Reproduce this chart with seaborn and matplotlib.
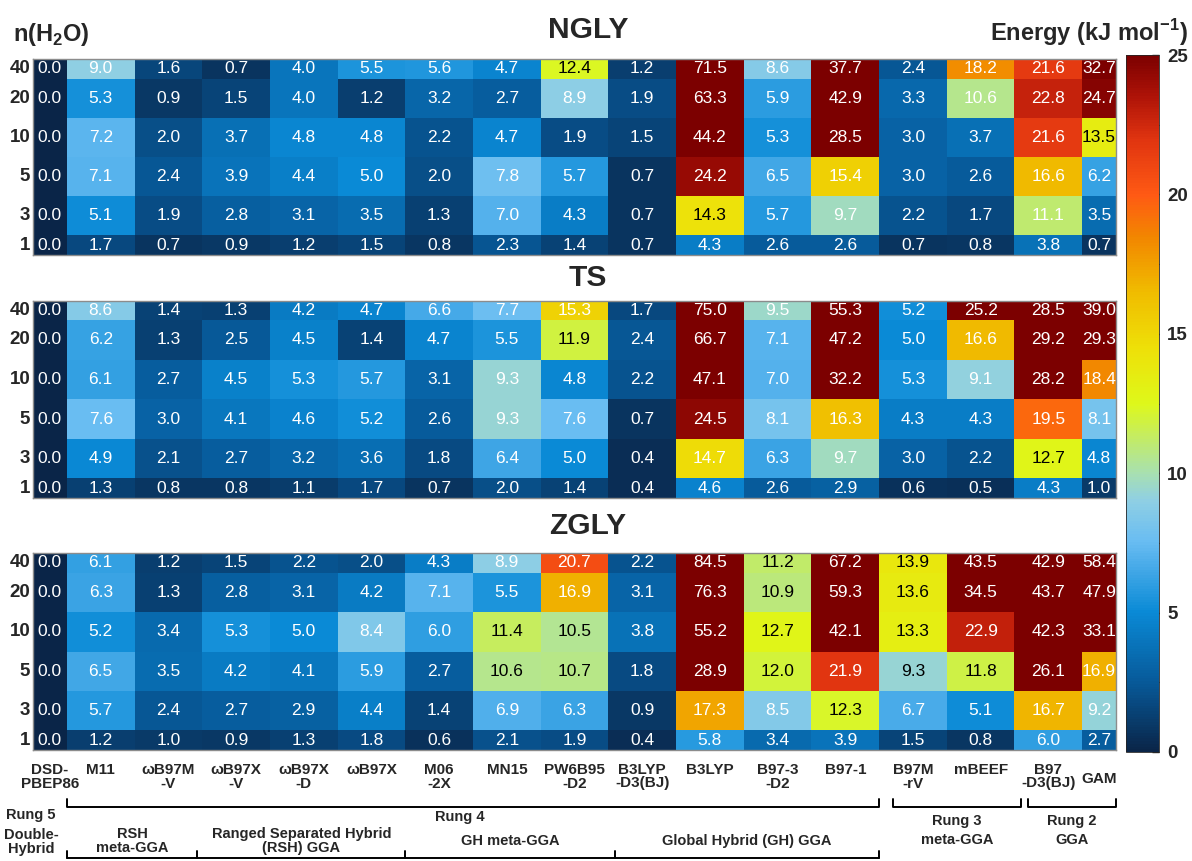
import matplotlib

matplotlib.use("Agg")
import matplotlib.pyplot as plt
import pandas as pd
import seaborn as sns
from matplotlib.colors import LinearSegmentedColormap
from matplotlib.transforms import ScaledTranslation, blended_transform_factory

W, H = 1192, 861

methods = ["DSD-\nPBEP86", "M11", "ωB97M\n-V", "ωB97X\n-V", "ωB97X\n-D", "ωB97X",
           "M06\n-2X", "MN15", "PW6B95\n-D2", "B3LYP\n-D3(BJ)", "B3LYP", "B97-3\n-D2",
           "B97-1", "B97M\n-rV", "mBEEF", "B97\n-D3(BJ)", "GAM"]
n_water = ["40", "20", "10", "5", "3", "1"]

ngly = [
    [0.0, 9.0, 1.6, 0.7, 4.0, 5.5, 5.6, 4.7, 12.4, 1.2, 71.5, 8.6, 37.7, 2.4, 18.2, 21.6, 32.7],
    [0.0, 5.3, 0.9, 1.5, 4.0, 1.2, 3.2, 2.7, 8.9, 1.9, 63.3, 5.9, 42.9, 3.3, 10.6, 22.8, 24.7],
    [0.0, 7.2, 2.0, 3.7, 4.8, 4.8, 2.2, 4.7, 1.9, 1.5, 44.2, 5.3, 28.5, 3.0, 3.7, 21.6, 13.5],
    [0.0, 7.1, 2.4, 3.9, 4.4, 5.0, 2.0, 7.8, 5.7, 0.7, 24.2, 6.5, 15.4, 3.0, 2.6, 16.6, 6.2],
    [0.0, 5.1, 1.9, 2.8, 3.1, 3.5, 1.3, 7.0, 4.3, 0.7, 14.3, 5.7, 9.7, 2.2, 1.7, 11.1, 3.5],
    [0.0, 1.7, 0.7, 0.9, 1.2, 1.5, 0.8, 2.3, 1.4, 0.7, 4.3, 2.6, 2.6, 0.7, 0.8, 3.8, 0.7],
]
ts = [
    [0.0, 8.6, 1.4, 1.3, 4.2, 4.7, 6.6, 7.7, 15.3, 1.7, 75.0, 9.5, 55.3, 5.2, 25.2, 28.5, 39.0],
    [0.0, 6.2, 1.3, 2.5, 4.5, 1.4, 4.7, 5.5, 11.9, 2.4, 66.7, 7.1, 47.2, 5.0, 16.6, 29.2, 29.3],
    [0.0, 6.1, 2.7, 4.5, 5.3, 5.7, 3.1, 9.3, 4.8, 2.2, 47.1, 7.0, 32.2, 5.3, 9.1, 28.2, 18.4],
    [0.0, 7.6, 3.0, 4.1, 4.6, 5.2, 2.6, 9.3, 7.6, 0.7, 24.5, 8.1, 16.3, 4.3, 4.3, 19.5, 8.1],
    [0.0, 4.9, 2.1, 2.7, 3.2, 3.6, 1.8, 6.4, 5.0, 0.4, 14.7, 6.3, 9.7, 3.0, 2.2, 12.7, 4.8],
    [0.0, 1.3, 0.8, 0.8, 1.1, 1.7, 0.7, 2.0, 1.4, 0.4, 4.6, 2.6, 2.9, 0.6, 0.5, 4.3, 1.0],
]
zgly = [
    [0.0, 6.1, 1.2, 1.5, 2.2, 2.0, 4.3, 8.9, 20.7, 2.2, 84.5, 11.2, 67.2, 13.9, 43.5, 42.9, 58.4],
    [0.0, 6.3, 1.3, 2.8, 3.1, 4.2, 7.1, 5.5, 16.9, 3.1, 76.3, 10.9, 59.3, 13.6, 34.5, 43.7, 47.9],
    [0.0, 5.2, 3.4, 5.3, 5.0, 8.4, 6.0, 11.4, 10.5, 3.8, 55.2, 12.7, 42.1, 13.3, 22.9, 42.3, 33.1],
    [0.0, 6.5, 3.5, 4.2, 4.1, 5.9, 2.7, 10.6, 10.7, 1.8, 28.9, 12.0, 21.9, 9.3, 11.8, 26.1, 16.9],
    [0.0, 5.7, 2.4, 2.7, 2.9, 4.4, 1.4, 6.9, 6.3, 0.9, 17.3, 8.5, 12.3, 6.7, 5.1, 16.7, 9.2],
    [0.0, 1.2, 1.0, 0.9, 1.3, 1.8, 0.6, 2.1, 1.9, 0.4, 5.8, 3.4, 3.9, 1.5, 0.8, 6.0, 2.7],
]

# cells whose value label is printed in black (row, col)
dark_ngly = [(0, 8), (4, 10), (2, 16)]
dark_ts = [(1, 8), (4, 15)]
dark_zgly = [(0, 11), (1, 11), (2, 11), (3, 11), (2, 7), (2, 8), (3, 7), (3, 8),
             (0, 13), (1, 13), (2, 13), (3, 13), (3, 14), (4, 12)]

# rung / family groupings along x (in column units)
rung_labels = ["Rung 4", "Rung 3", "Rung 2"]
rung_spans = [(1.0, 13.0), (13.2, 15.1), (15.2, 16.5)]
family_labels = ["RSH\nmeta-GGA", "Ranged Separated Hybrid\n(RSH) GGA", "GH meta-GGA",
                 "Global Hybrid (GH) GGA"]
family_edges = [1.0, 2.93, 6.0, 9.1, 13.0]

energy_cmap = LinearSegmentedColormap.from_list("energy", [
    (0.0, "#0a2548"), (2.5 / 25, "#075a9a"), (5 / 25, "#0a8ad6"), (7.5 / 25, "#68bcf2"),
    (9 / 25, "#8fcfe4"), (10 / 25, "#a8e0b0"), (12.5 / 25, "#def81a"), (14.5 / 25, "#eee008"),
    (16.5 / 25, "#f0bc00"), (18.5 / 25, "#f28600"), (20 / 25, "#ff5a14"), (22 / 25, "#e03410"),
    (23.5 / 25, "#b01408"), (1.0, "#7c0000"),
])

sns.set_theme(style="white")
plt.rcParams["font.family"] = ["Liberation Sans", "DejaVu Sans"]
plt.rcParams["mathtext.fontset"] = "custom"
plt.rcParams["mathtext.rm"] = "Liberation Sans:bold"
plt.rcParams["mathtext.bf"] = "Liberation Sans:bold"


def px_box(left, top, right, bottom):
    return [left / W, 1 - bottom / H, (right - left) / W, (bottom - top) / H]


def fy(y):
    return 1 - y / H


fig = plt.figure(figsize=(W / 100, H / 100), dpi=100)

ncol, nrow = len(methods), len(n_water)
ypos = [0.75] + [r + 0.5 for r in range(1, nrow - 1)] + [nrow - 0.75]
xpos = [0.75] + [c + 0.5 for c in range(1, ncol - 1)] + [ncol - 0.75]

panels = [
    ("NGLY", ngly, dark_ngly, 59, 255, 30),
    ("TS", ts, dark_ts, 300.5, 498, 278),
    ("ZGLY", zgly, dark_zgly, 553, 750, 526),
]
mesh = None
for i, (name, vals, dark, top, bottom, title_y) in enumerate(panels):
    ax = fig.add_axes(px_box(33, top, 1116, bottom))
    df = pd.DataFrame(vals, index=n_water, columns=methods)
    sns.heatmap(df, ax=ax, cmap=energy_cmap, vmin=0, vmax=25, cbar=False,
                annot=True, fmt=".1f", annot_kws={"fontsize": 12.5, "color": "white"},
                xticklabels=False, yticklabels=True)
    mesh = ax.collections[0]
    # outer rows/columns are cut in half; centre their labels in the visible part
    for k, t in enumerate(ax.texts):
        r, c = divmod(k, ncol)
        t.set_position((xpos[c], ypos[r]))
        if (r, c) in dark:
            t.set_color("black")
    ax.set_xlim(0.5, ncol - 0.5)
    ax.set_ylim(nrow - 0.5, 0.5)
    ax.set_yticks(ypos)
    ax.set_yticklabels(n_water, rotation=0, fontsize=13.5, fontweight="bold")
    ax.tick_params(axis="y", length=0, pad=2)
    for s in ax.spines.values():
        s.set_visible(True)
        s.set_color("#8c8c8c")
        s.set_linewidth(1.0)
    fig.text(588 / W, fy(title_y), name, ha="center", va="center",
             fontsize=21.5, fontweight="bold")
    if i == len(panels) - 1:
        ax.set_xticks(xpos)
        ax.set_xticklabels(methods, rotation=0, fontsize=11, fontweight="bold",
                           linespacing=1.0, va="top")
        ax.tick_params(axis="x", length=0, pad=9)
        # single-line GAM label sits between the two lines of its neighbour
        gam = ax.get_xticklabels()[-1]
        gam.set_transform(gam.get_transform() + ScaledTranslation(0, -7 / 72, fig.dpi_scale_trans))
        bottom_ax = ax

fig.text(13 / W, fy(35), r"n(H$_2$O)", ha="left", va="center", fontsize=17, fontweight="bold")
fig.text(1188 / W, fy(33), r"Energy (kJ mol$^{\mathregular{-1}}$)", ha="right", va="center",
         fontsize=17, fontweight="bold")

# colour bar
cax = fig.add_axes(px_box(1126, 55, 1159, 752))
cb = fig.colorbar(mesh, cax=cax)
cb.set_ticks([0, 5, 10, 15, 20, 25])
cb.ax.set_yticks([2.5, 7.5, 12.5, 17.5, 22.5], minor=True)
cb.ax.tick_params(which="major", direction="in", length=5, width=1, labelsize=13.5, pad=6)
cb.ax.tick_params(which="minor", direction="in", length=3, width=0.8)
for lab in cb.ax.get_yticklabels():
    lab.set_fontweight("bold")
cb.outline.set_linewidth(0.6)

# rung / family brackets under the bottom panel
tr = blended_transform_factory(bottom_ax.transData, fig.transFigure)
kw = dict(color="black", lw=1.4, transform=tr, clip_on=False)
for lab, (x0, x1) in zip(rung_labels, rung_spans):
    bottom_ax.plot([x0, x0, x1, x1], [fy(799), fy(807), fy(807), fy(799)], **kw)
    cx = 6.8 if lab == "Rung 4" else (x0 + x1) / 2
    ly = 817 if lab == "Rung 4" else 821
    bottom_ax.text(cx, fy(ly), lab, transform=tr, ha="center", va="center",
                   fontsize=10.5, fontweight="bold")
bottom_ax.plot([family_edges[0], family_edges[-1]], [fy(858), fy(858)], **kw)
for e in family_edges:
    bottom_ax.plot([e, e], [fy(858), fy(851)], **kw)
for lab, x0, x1 in zip(family_labels, family_edges[:-1], family_edges[1:]):
    bottom_ax.text((x0 + x1) / 2, fy(841), lab, transform=tr, ha="center", va="center",
                   fontsize=10.5, fontweight="bold", linespacing=1.05)
bottom_ax.text(0.47, fy(815), "Rung 5", transform=tr, ha="center", va="center",
               fontsize=10.5, fontweight="bold")
bottom_ax.text(0.47, fy(842), "Double-\nHybrid", transform=tr, ha="center", va="center",
               fontsize=10.5, fontweight="bold", linespacing=1.05)
for (x0, x1), lab in zip(rung_spans[1:], ["meta-GGA", "GGA"]):
    bottom_ax.text((x0 + x1) / 2, fy(840), lab, transform=tr, ha="center", va="center",
                   fontsize=10.5, fontweight="bold")

fig.savefig("out.png", dpi=100)
